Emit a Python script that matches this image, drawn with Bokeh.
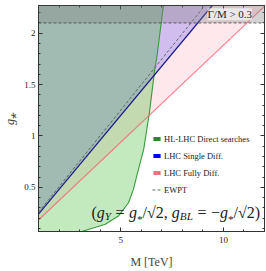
from bokeh.plotting import figure
from bokeh.models import (Range1d, LinearAxis, SingleIntervalTicker, Label, Span,
                          BoxAnnotation, Legend, LegendItem, CustomJSTickFormatter)
from bokeh.embed import file_html
from bokeh.resources import INLINE

# ---------------- data ----------------
x_lim = [1.0, 12.0]          # M [TeV]
y_lim = [0.07, 2.27]         # g*

# HL-LHC direct searches exclusion boundary
direct_M = [3.11, 4.25, 4.89, 5.38, 5.62, 5.78, 5.95, 6.12, 6.40, 6.66, 6.75, 7.08]
direct_g = [0.07, 0.14, 0.22, 0.35, 0.48, 0.61, 0.74, 0.87, 1.23, 1.65, 1.75, 2.27]

# LHC single differential bound
single_M = [1.0, 9.46]
single_g = [0.24, 2.27]

# LHC fully differential bound
fully_M = [1.0, 12.0]
fully_g = [0.182, 2.261]

# EWPT bound
ewpt_M = [1.0, 9.10]
ewpt_g = [0.257, 2.27]

# width condition Gamma/M > 0.3
gamma_g = 2.1

legend_labels = ["HL-LHC Direct searches", "LHC Single Diff.", "LHC Fully Diff.", "EWPT"]
x_ticks_interval = 5
y_ticks_interval = 0.5

SERIF = "Liberation Serif"

# reference pixel -> data helpers (for annotation placement)
def px_to_M(px):
    return 1.0 + (px - 37.0) / 20.55

def py_to_g(py):
    return 1.0 - (py - 136.7) / 102.7

p = figure(frame_width=226, frame_height=226,
           x_range=Range1d(*x_lim), y_range=Range1d(*y_lim),
           output_backend="svg", toolbar_location=None,
           min_border_left=29, min_border_right=3, min_border_top=5, min_border_bottom=2,
           background_fill_color="white", border_fill_color="white")
p.outline_line_color = "#333333"
p.outline_line_width = 1
p.xgrid.visible = False
p.ygrid.visible = False

# ---------------- regions ----------------
ytop = [y_lim[1]] * 2
p.varea(x=fully_M, y1=fully_g, y2=ytop, fill_color="#ff6478", fill_alpha=0.15)
p.varea(x=single_M, y1=single_g, y2=ytop, fill_color="#0000ff", fill_alpha=0.18)
p.patch(x=[x_lim[0]] + direct_M + [x_lim[0]],
        y=[direct_g[0]] + direct_g + [direct_g[-1]],
        fill_color="#22b011", fill_alpha=0.27, line_color=None)

# ---------------- lines ----------------
p.line(direct_M, direct_g, line_color="#3a9a3a", line_width=1.1)
p.line(fully_M, fully_g, line_color="#ff5a6e", line_alpha=0.75, line_width=1.1)
p.line(single_M, single_g, line_color="#1a1a8c", line_width=1.2)
ewpt_r = p.line(ewpt_M, ewpt_g, line_color="#5a6a60", line_width=1, line_dash="3 2")

# Gamma/M band
p.add_layout(BoxAnnotation(bottom=gamma_g, fill_color="#808080", fill_alpha=0.35,
                           line_color=None))
p.add_layout(Span(location=gamma_g, dimension="width", line_color="#444444",
                  line_width=0.8, line_dash="3 2"))
p.add_layout(Label(x=px_to_M(206), y=py_to_g(15), text="Γ/M > 0.3",
                   text_baseline="middle", text_font=SERIF, text_font_size="11px",
                   text_color="#222222", background_fill_color="white",
                   background_fill_alpha=0.6))

# ---------------- legend ----------------
nan = float("nan")
r_g = p.quad(left=[nan], right=[nan], top=[nan], bottom=[nan], fill_color="#2a8a2a", line_color=None)
r_b = p.quad(left=[nan], right=[nan], top=[nan], bottom=[nan], fill_color="#0000ff", line_color=None)
r_p = p.quad(left=[nan], right=[nan], top=[nan], bottom=[nan], fill_color="#ff6b7f", line_color=None)
legend = Legend(items=[LegendItem(label=legend_labels[0], renderers=[r_g]),
                       LegendItem(label=legend_labels[1], renderers=[r_b]),
                       LegendItem(label=legend_labels[2], renderers=[r_p]),
                       LegendItem(label=legend_labels[3], renderers=[ewpt_r])],
                location=(114, 33), padding=0, margin=0, spacing=0,
                label_height=17, glyph_height=5, glyph_width=9, label_standoff=3,
                label_text_font=SERIF, label_text_font_size="8.5px",
                label_text_color="#222222", background_fill_alpha=0,
                border_line_alpha=0)
p.add_layout(legend, "center")

# ---------------- formula ----------------
FS = 16.0
SUB = 0.7 * FS
main_base = 213
# (text, width in em of its font, kind, style)
pieces = [("(", .333, "m", "normal"), ("g", .5, "m", "italic"), ("Y", .556, "s", "italic"),
          (None, .28, "m", None), ("=", .564, "m", "normal"), (None, .28, "m", None),
          ("g", .5, "m", "italic"), ("*", .5, "a", "normal"),
          ("/√2,", 1.577, "m", "normal"), (None, .25, "m", None),
          ("g", .5, "m", "italic"), ("BL", 1.167, "s", "italic"),
          (None, .28, "m", None), ("=", .564, "m", "normal"), (None, .28, "m", None),
          ("−", .564, "m", "normal"), ("g", .5, "m", "italic"), ("*", .5, "a", "normal"),
          ("/√2)", 1.66, "m", "normal")]
cur = 90.0
for txt, w, kind, style in pieces:
    size = FS if kind == "m" else SUB
    if txt is not None:
        base = main_base + (0 if kind == "m" else (3.5 if kind == "s" else 6.5))
        p.add_layout(Label(x=px_to_M(cur), y=py_to_g(base), text=txt,
                           text_baseline="alphabetic", text_font=SERIF,
                           text_font_size=f"{size:.1f}px",
                           text_font_style=style, text_color="#222222"))
    cur += w * size

# ---------------- axes ----------------
xt = SingleIntervalTicker(interval=x_ticks_interval, num_minor_ticks=5)
yt = SingleIntervalTicker(interval=y_ticks_interval, num_minor_ticks=5)
for ax in p.xaxis:
    ax.ticker = xt
for ax in p.yaxis:
    ax.ticker = yt

def style_axis(ax, labels=True, standoff=3):
    ax.axis_line_color = "#333333"
    ax.major_tick_in = 4
    ax.major_tick_out = 0
    ax.minor_tick_in = 2
    ax.minor_tick_out = 0
    ax.major_tick_line_color = "#333333"
    ax.minor_tick_line_color = "#333333"
    ax.major_label_text_font = SERIF
    ax.major_label_text_color = "#222222"
    ax.major_label_text_font_size = "9px"
    if labels:
        ax.major_label_standoff = standoff
    else:
        ax.formatter = CustomJSTickFormatter(code="return ''")
        ax.major_label_standoff = 0

style_axis(p.xaxis[0], standoff=5)
style_axis(p.yaxis[0], standoff=3)
p.xaxis[0].axis_label = "M [TeV]"
p.xaxis[0].axis_label_text_font = SERIF
p.xaxis[0].axis_label_text_font_style = "normal"
p.xaxis[0].axis_label_text_font_size = "12px"
p.xaxis[0].axis_label_standoff = 9
p.yaxis[0].axis_label = "g⁎"
p.yaxis[0].axis_label_text_font = SERIF
p.yaxis[0].axis_label_text_font_style = "italic"
p.yaxis[0].axis_label_text_font_size = "12px"
p.yaxis[0].axis_label_standoff = 4

top_ax = LinearAxis(ticker=SingleIntervalTicker(interval=x_ticks_interval, num_minor_ticks=5))
right_ax = LinearAxis(ticker=SingleIntervalTicker(interval=y_ticks_interval, num_minor_ticks=5))
style_axis(top_ax, labels=False)
style_axis(right_ax, labels=False)
p.add_layout(top_ax, "above")
p.add_layout(right_ax, "right")

open("out.html", "w").write(file_html(p, INLINE))
